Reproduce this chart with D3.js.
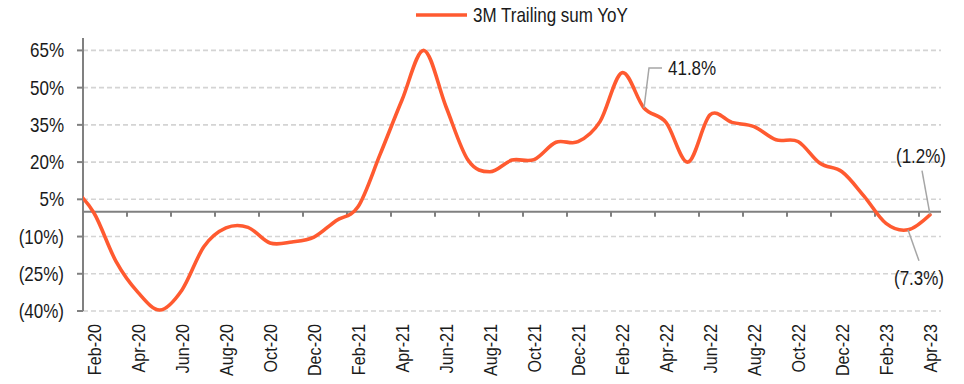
<!DOCTYPE html>
<html>
<head>
<meta charset="utf-8">
<script src="https://cdn.jsdelivr.net/npm/d3@7"></script>
<style>
  html, body { margin: 0; padding: 0; background: #fff; }
  svg { display: block; }
  text { font-family: "Liberation Sans", Arial, sans-serif; fill: #1a1a1a; }
</style>
</head>
<body>
<svg id="chart" width="964" height="384"></svg>
<script>
// Monthly series; the first month is a lead-in that only shows as the line entering the plot.
const months = [
  "Jan-20","Feb-20","Mar-20","Apr-20","May-20","Jun-20","Jul-20","Aug-20","Sep-20","Oct-20","Nov-20","Dec-20",
  "Jan-21","Feb-21","Mar-21","Apr-21","May-21","Jun-21","Jul-21","Aug-21","Sep-21","Oct-21","Nov-21","Dec-21",
  "Jan-22","Feb-22","Mar-22","Apr-22","May-22","Jun-22","Jul-22","Aug-22","Sep-22","Oct-22","Nov-22","Dec-22",
  "Jan-23","Feb-23","Mar-23","Apr-23"
];
const trailingYoY = [
  10.0, -0.5, -20.0, -32.5, -39.6, -31.5, -14.0, -6.5, -6.3, -12.6, -12.2, -10.2,
  -3.6, 2.0, 23.0, 45.0, 65.0, 42.3, 20.8, 16.1, 20.8, 21.0, 28.0, 28.2,
  36.3, 56.0, 41.8, 36.0, 20.0, 39.0, 36.0, 34.3, 29.0, 28.3, 19.5, 16.1,
  6.3, -4.7, -7.3, -1.2
];
const yTicks = [-40, -25, -10, 5, 20, 35, 50, 65];
const seriesName = "3M Trailing sum YoY";
// Months whose value is called out on the chart
const callouts = ["Mar-22", "Mar-23", "Apr-23"];

const svg = d3.select("#chart");
const plotL = 83, plotR = 941, plotT = 38, plotB = 311;
const shown = months.slice(1);
const step = (plotR - plotL) / shown.length;

const x = d3.scaleBand().domain(months).range([plotL - step, plotR]).paddingInner(0).paddingOuter(0);
const cx = m => x(m) + x.bandwidth() / 2;
const y = d3.scaleLinear().domain([-40, 70]).range([plotB, plotT]);

const fmt = v => v < 0 ? `(${Math.abs(v).toFixed(1)}%)` : `${v.toFixed(1)}%`;
const tickFmt = v => v < 0 ? `(${Math.abs(v)}%)` : `${v}%`;
const SX = 0.85; // narrow text face

// gridlines
svg.append("g").selectAll("line").data(yTicks).join("line")
  .attr("x1", plotL).attr("x2", plotR)
  .attr("y1", d => y(d)).attr("y2", d => y(d))
  .attr("stroke", "#d4d4d4").attr("stroke-width", 1.6).attr("stroke-dasharray", "5,3");

// y axis
const yAxis = svg.append("g");
yAxis.append("line").attr("x1", plotL).attr("x2", plotL).attr("y1", plotT).attr("y2", plotB)
  .attr("stroke", "#808080").attr("stroke-width", 2);
yAxis.selectAll("line.t").data(yTicks).join("line").attr("class", "t")
  .attr("x1", plotL - 6).attr("x2", plotL).attr("y1", d => y(d)).attr("y2", d => y(d))
  .attr("stroke", "#808080").attr("stroke-width", 2);
yAxis.selectAll("text").data(yTicks).join("text")
  .attr("transform", d => `translate(64,${y(d) + 7}) scale(${SX},1)`)
  .attr("text-anchor", "end").attr("font-size", 20)
  .text(tickFmt);

// x axis at zero
const xAxis = svg.append("g");
const tickMonths = shown.filter((m, i) => i % 2 === 0);
xAxis.append("line").attr("x1", plotL).attr("x2", plotR).attr("y1", y(0)).attr("y2", y(0))
  .attr("stroke", "#808080").attr("stroke-width", 2);
xAxis.selectAll("line.t").data(tickMonths).join("line").attr("class", "t")
  .attr("x1", d => x(d)).attr("x2", d => x(d)).attr("y1", y(0)).attr("y2", y(0) + 5)
  .attr("stroke", "#808080").attr("stroke-width", 2);
xAxis.selectAll("text").data(tickMonths).join("text")
  .attr("transform", d => `translate(${cx(d) + 7},${plotB + 13}) rotate(-90) scale(${SX},1)`)
  .attr("text-anchor", "end").attr("font-size", 19)
  .text(d => d);

// clipped line
svg.append("clipPath").attr("id", "plot").append("rect")
  .attr("x", plotL).attr("y", plotT - 10).attr("width", plotR - plotL + 4).attr("height", plotB - plotT + 20);
const line = d3.line().x(d => cx(d.m)).y(d => y(d.v)).curve(d3.curveCardinal.tension(0));
const pts = months.map((m, i) => ({ m, v: trailingYoY[i] }));
svg.append("path").datum(pts)
  .attr("clip-path", "url(#plot)")
  .attr("d", line).attr("fill", "none")
  .attr("stroke", "#ff5a30").attr("stroke-width", 3.6)
  .attr("stroke-linejoin", "round").attr("stroke-linecap", "round");

// value callouts with leader lines
const valOf = m => trailingYoY[months.indexOf(m)];
const calloutLayout = {
  "Mar-22": { path: [[0, 0], [5, -40], [18, -40]], tx: 24, ty: -33, anchor: "start" },
  "Mar-23": { path: [[0, 0], [11, 31]], tx: 11, ty: 55, anchor: "middle" },
  "Apr-23": { path: [[0, 0], [-8, -44]], tx: -9, ty: -52, anchor: "middle" }
};
callouts.forEach(m => {
  const px = cx(m), py = y(valOf(m));
  const c = calloutLayout[m];
  svg.append("polyline")
    .attr("points", c.path.map(p => `${px + p[0]},${py + p[1]}`).join(" "))
    .attr("fill", "none").attr("stroke", "#a6a6a6").attr("stroke-width", 1.5);
  svg.append("text")
    .attr("transform", `translate(${px + c.tx},${py + c.ty}) scale(${SX},1)`)
    .attr("text-anchor", c.anchor).attr("font-size", 20)
    .text(fmt(valOf(m)));
});

// legend
const lg = svg.append("g");
lg.append("line").attr("x1", 416).attr("x2", 467).attr("y1", 15).attr("y2", 15)
  .attr("stroke", "#ff5a30").attr("stroke-width", 3.6);
lg.append("text").attr("transform", `translate(473,22) scale(${SX},1)`)
  .attr("font-size", 20).text(seriesName);
</script>
</body>
</html>
